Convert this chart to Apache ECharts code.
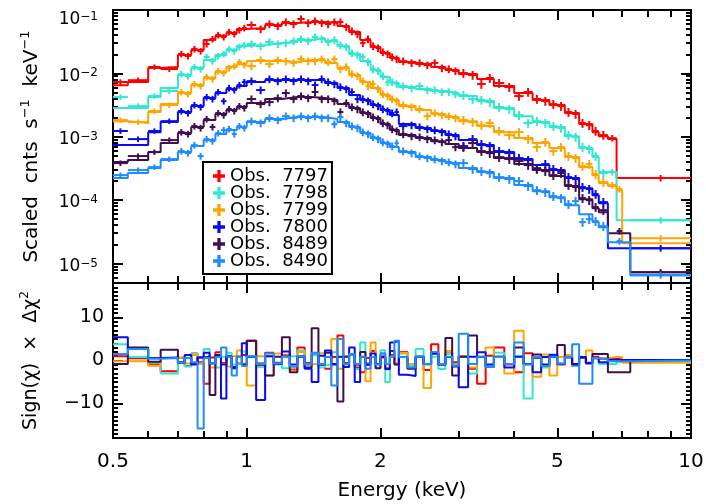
<!DOCTYPE html>
<html><head><meta charset="utf-8">
<script src="https://cdn.jsdelivr.net/npm/echarts@6/dist/echarts.min.js"></script>
<style>html,body{margin:0;padding:0;background:#fff}#c{width:706px;height:504px}</style>
</head><body><div id="c"></div>
<script>
// ---------------- data ----------------
const obsNames = ['Obs.  7797','Obs.  7798','Obs.  7799','Obs.  7800','Obs.  8489','Obs.  8490'];
const obsColors = ['#FF0000','#30E8D0','#FFA500','#0A0AF0','#3F0F4F','#1E8CFF'];

// model (folded) step bins, keV
const modelEdges = [0.50,0.54,0.60,0.64,0.70,0.75,0.80,0.85,0.90,0.95,1.00,1.10,1.20,1.30,1.40,1.50,1.60,1.70,1.80,1.90,2.00,2.10,2.20,2.40,2.60,2.80,3.00,3.30,3.60,4.00,4.40,4.80,5.20,5.60,6.00,6.20,6.50,6.80,7.00,7.30,10.0];
const model7797 = [6.5e-3,7.3e-3,1.21e-2,1.26e-2,1.95e-2,2.33e-2,3.36e-2,3.88e-2,4.33e-2,5.0e-2,5.2e-2,5.8e-2,6.24e-2,6.46e-2,6.46e-2,6.24e-2,5.59e-2,4.49e-2,3.36e-2,2.6e-2,2.09e-2,1.74e-2,1.51e-2,1.40e-2,1.26e-2,1.13e-2,9.75e-3,8.13e-3,6.3e-3,4.89e-3,3.79e-3,3.16e-3,2.36e-3,1.58e-3,1.18e-3,1.02e-3,9.16e-4,2.22e-4,2.22e-4,2.22e-4];
const model7798 = [2.83e-3,2.83e-3,4.22e-3,5.86e-3,9.4e-3,1.21e-2,1.62e-2,1.95e-2,2.33e-2,2.7e-2,2.8e-2,3.01e-2,3.12e-2,3.36e-2,3.61e-2,3.24e-2,2.7e-2,2.02e-2,1.56e-2,1.13e-2,8.74e-3,7.03e-3,6.08e-3,5.65e-3,5.25e-3,4.89e-3,4.38e-3,3.65e-3,2.83e-3,2.11e-3,1.70e-3,1.42e-3,1.02e-3,6.6e-4,4.76e-4,2.76e-4,2.76e-4,4.81e-5,4.81e-5,4.81e-5];
const model7799 = [1.76e-3,1.64e-3,2.45e-3,3.27e-3,4.89e-3,6.53e-3,8.43e-3,1.05e-2,1.26e-2,1.40e-2,1.56e-2,1.56e-2,1.51e-2,1.62e-2,1.62e-2,1.46e-2,1.21e-2,9.4e-3,7.29e-3,5.86e-3,4.54e-3,3.79e-3,3.04e-3,2.63e-3,2.28e-3,2.04e-3,1.76e-3,1.47e-3,1.18e-3,9.5e-4,7.92e-4,6.6e-4,4.76e-4,3.31e-4,2.47e-4,1.85e-4,1.66e-4,1.43e-4,2.08e-5,2.08e-5];
const model7800 = [7.36e-4,7.36e-4,1.18e-3,1.70e-3,2.45e-3,3.04e-3,4.07e-3,4.89e-3,5.65e-3,6.3e-3,7.29e-3,7.84e-3,7.84e-3,7.84e-3,7.84e-3,7.03e-3,5.86e-3,4.54e-3,3.79e-3,3.16e-3,2.63e-3,2.19e-3,1.58e-3,1.37e-3,1.23e-3,1.06e-3,8.83e-4,7.36e-4,5.71e-4,4.43e-4,3.56e-4,2.97e-4,2.22e-4,1.54e-4,1.19e-4,8.93e-5,1.74e-5,1.74e-5,1.74e-5,1.74e-5];
const model8489 = [3.97e-4,4.27e-4,5.71e-4,7.92e-4,1.14e-3,1.42e-3,1.83e-3,2.28e-3,2.63e-3,2.94e-3,3.40e-3,3.93e-3,4.22e-3,4.22e-3,4.07e-3,3.79e-3,3.27e-3,2.83e-3,2.36e-3,1.97e-3,1.58e-3,1.27e-3,1.06e-3,9.5e-4,8.51e-4,7.64e-4,6.6e-4,5.71e-4,4.59e-4,3.69e-4,2.97e-4,2.39e-4,1.66e-4,1.03e-4,7.44e-5,6.44e-5,3.0e-5,3.0e-5,3.0e-5,7.26e-6];
const model8490 = [2.22e-4,2.66e-4,3.19e-4,4.27e-4,5.71e-4,7.1e-4,8.83e-4,1.10e-3,1.27e-3,1.42e-3,1.70e-3,1.90e-3,2.04e-3,2.04e-3,2.04e-3,1.90e-3,1.70e-3,1.42e-3,1.14e-3,9.5e-4,7.92e-4,6.85e-4,5.71e-4,4.76e-4,4.27e-4,3.83e-4,3.19e-4,2.76e-4,2.22e-4,1.72e-4,1.38e-4,1.11e-4,8.3e-5,5.98e-5,4.48e-5,3.73e-5,2.16e-5,2.16e-5,2.16e-5,6.51e-6];

// data channel groups, keV
const binEdges = [0.50,0.54,0.60,0.64,0.70,0.725,0.75,0.775,0.80,0.825,0.85,0.875,0.90,0.925,0.95,0.975,1.00,1.05,1.10,1.15,1.20,1.25,1.30,1.35,1.40,1.45,1.50,1.55,1.60,1.65,1.70,1.75,1.80,1.85,1.90,1.95,2.00,2.05,2.10,2.15,2.20,2.30,2.40,2.50,2.60,2.70,2.80,2.90,3.00,3.15,3.30,3.45,3.60,3.80,4.00,4.20,4.40,4.60,4.80,5.00,5.20,5.40,5.60,5.80,6.00,6.20,6.50,6.80,7.00,7.30,10.0];
const errFrac = [0.10,0.10,0.10,0.10,0.12,0.12,0.12,0.12,0.12,0.12,0.12,0.12,0.12,0.12,0.12,0.12,0.14,0.14,0.14,0.14,0.14,0.14,0.14,0.14,0.14,0.14,0.14,0.14,0.14,0.14,0.14,0.14,0.14,0.14,0.14,0.14,0.14,0.14,0.14,0.14,0.14,0.14,0.14,0.14,0.14,0.14,0.14,0.14,0.16,0.16,0.16,0.16,0.16,0.16,0.16,0.16,0.16,0.16,0.16,0.16,0.16,0.16,0.16,0.16,0.16,0.16,0.12,0.12,0.12,0.12];

const data7797 = [7.3e-3,7.8e-3,1.26e-2,1.17e-2,2.02e-2,1.88e-2,2.42e-2,2.25e-2,2.90e-2,3.48e-2,4.03e-2,3.74e-2,4.49e-2,4.18e-2,4.83e-2,5.20e-2,5.80e-2,5.01e-2,6.01e-2,5.59e-2,6.46e-2,6.01e-2,7.21e-2,6.24e-2,6.70e-2,6.24e-2,6.01e-2,6.46e-2,6.46e-2,5.39e-2,4.66e-2,4.18e-2,3.01e-2,3.48e-2,2.70e-2,2.51e-2,2.17e-2,2.02e-2,1.81e-2,1.68e-2,1.56e-2,1.46e-2,1.46e-2,1.35e-2,1.46e-2,1.21e-2,1.17e-2,1.09e-2,1.01e-2,9.4e-3,6.78e-3,8.43e-3,7.03e-3,6.08e-3,4.38e-3,5.07e-3,3.93e-3,3.65e-3,3.27e-3,3.04e-3,2.45e-3,2.28e-3,1.64e-3,1.52e-3,1.23e-3,1.06e-3,9.5e-4,null,null,2.22e-4];
const data7798 = [4.22e-3,3.04e-3,4.38e-3,5.25e-3,9.75e-3,9.06e-3,1.26e-2,1.17e-2,1.81e-2,1.56e-2,1.88e-2,2.02e-2,2.42e-2,2.25e-2,2.60e-2,2.80e-2,2.90e-2,2.70e-2,3.12e-2,2.90e-2,3.01e-2,3.24e-2,3.48e-2,3.24e-2,3.74e-2,3.48e-2,3.12e-2,3.36e-2,2.80e-2,2.60e-2,2.09e-2,1.95e-2,1.81e-2,1.51e-2,1.17e-2,1.09e-2,9.06e-3,7.29e-3,7.29e-3,6.78e-3,6.30e-3,5.86e-3,6.30e-3,5.45e-3,5.45e-3,5.07e-3,5.07e-3,4.71e-3,4.54e-3,3.93e-3,3.79e-3,3.52e-3,2.94e-3,2.73e-3,2.19e-3,1.64e-3,1.76e-3,1.64e-3,1.47e-3,1.37e-3,1.06e-3,9.86e-4,6.85e-4,6.37e-4,4.94e-4,2.66e-4,2.76e-4,null,null,4.81e-5];
const data7799 = [1.83e-3,1.70e-3,2.54e-3,3.16e-3,5.07e-3,4.71e-3,6.78e-3,6.30e-3,8.74e-3,8.13e-3,1.09e-2,1.01e-2,1.21e-2,1.30e-2,1.51e-2,1.35e-2,1.30e-2,1.62e-2,1.40e-2,1.62e-2,1.56e-2,1.46e-2,1.68e-2,1.56e-2,1.56e-2,1.68e-2,1.51e-2,1.68e-2,1.17e-2,1.26e-2,9.75e-3,9.06e-3,7.55e-3,6.30e-3,6.78e-3,5.65e-3,4.71e-3,4.38e-3,3.93e-3,3.65e-3,3.16e-3,2.94e-3,2.73e-3,2.11e-3,2.36e-3,2.19e-3,2.11e-3,1.97e-3,1.83e-3,1.70e-3,1.52e-3,1.64e-3,1.23e-3,1.06e-3,1.18e-3,9.16e-4,6.85e-4,8.22e-4,5.93e-4,6.85e-4,4.94e-4,4.59e-4,3.43e-4,3.69e-4,2.56e-4,1.92e-4,1.72e-4,1.49e-4,null,2.50e-5];
const data7800 = [1.23e-3,9.16e-4,1.23e-3,1.76e-3,2.54e-3,2.36e-3,3.16e-3,2.94e-3,4.22e-3,3.93e-3,5.07e-3,3.65e-3,5.86e-3,5.45e-3,6.53e-3,7.29e-3,7.55e-3,5.45e-3,8.13e-3,7.55e-3,8.13e-3,7.55e-3,8.13e-3,7.55e-3,6.53e-3,8.13e-3,7.29e-3,6.78e-3,6.08e-3,5.65e-3,5.07e-3,3.93e-3,3.93e-3,3.65e-3,3.27e-3,3.04e-3,2.73e-3,2.54e-3,2.36e-3,2.45e-3,1.47e-3,1.52e-3,1.42e-3,1.32e-3,1.27e-3,1.18e-3,1.10e-3,1.02e-3,7.10e-4,9.16e-4,7.64e-4,7.10e-4,5.93e-4,5.51e-4,4.59e-4,4.27e-4,3.19e-4,3.69e-4,3.08e-4,2.86e-4,2.30e-4,2.14e-4,1.60e-4,1.49e-4,1.24e-4,9.27e-5,null,null,null,1.74e-5];
const data8489 = [3.83e-4,4.94e-4,5.71e-4,8.83e-4,1.18e-3,1.10e-3,1.47e-3,1.37e-3,1.90e-3,1.42e-3,2.36e-3,2.19e-3,2.73e-3,2.54e-3,3.04e-3,2.83e-3,3.93e-3,3.27e-3,3.52e-3,4.07e-3,4.89e-3,3.93e-3,4.38e-3,4.07e-3,5.07e-3,3.93e-3,3.93e-3,3.65e-3,2.45e-3,3.40e-3,2.94e-3,2.73e-3,2.45e-3,2.28e-3,2.04e-3,1.90e-3,1.64e-3,1.52e-3,1.32e-3,1.23e-3,1.10e-3,1.02e-3,9.86e-4,9.16e-4,8.83e-4,8.22e-4,8.83e-4,6.85e-4,6.85e-4,7.92e-4,5.93e-4,5.51e-4,4.76e-4,4.43e-4,4.12e-4,3.56e-4,3.08e-4,2.86e-4,2.47e-4,2.66e-4,1.72e-4,1.60e-4,1.07e-4,9.96e-5,7.73e-5,6.92e-5,null,3.23e-5,null,7.26e-6];
const data8490 = [2.47e-4,2.97e-4,3.31e-4,4.43e-4,5.93e-4,5.51e-4,7.36e-4,4.94e-4,9.16e-4,8.51e-4,1.14e-3,1.27e-3,1.32e-3,1.10e-3,1.47e-3,1.37e-3,1.76e-3,1.64e-3,1.97e-3,1.83e-3,2.11e-3,1.97e-3,2.11e-3,1.97e-3,2.11e-3,1.97e-3,1.97e-3,1.58e-3,2.04e-3,1.64e-3,1.47e-3,1.37e-3,1.18e-3,1.10e-3,9.86e-4,9.16e-4,8.22e-4,7.64e-4,7.10e-4,7.92e-4,5.93e-4,5.51e-4,4.94e-4,4.59e-4,4.43e-4,4.12e-4,3.97e-4,3.69e-4,3.83e-4,3.08e-4,2.86e-4,2.66e-4,2.30e-4,2.14e-4,1.99e-4,1.66e-4,1.43e-4,1.33e-4,1.15e-4,1.07e-4,8.61e-5,9.61e-5,4.48e-5,4.99e-5,4.64e-5,3.87e-5,null,2.24e-5,null,6.51e-6];

// residuals: sign(chi) * delta chi^2
const resid7797 = [1.0,0.5,-0.8,-2.5,0.6,-1.3,1.6,-0.4,-5.4,0.7,1.9,-0.6,1.0,-1.7,-0.7,1.3,4.6,-1.2,1.8,-0.5,1.2,-2.1,3.0,-0.6,1.4,-1.0,-1.9,0.8,5.8,-0.6,1.5,-1.6,-2.7,0.6,2.2,-0.8,0.7,-1.8,1.3,-0.7,2.0,-1.0,0.8,-2.2,3.8,-0.8,1.6,-0.4,1.0,-1.9,-5.4,1.1,3.0,-0.9,-2.7,1.7,0.6,-1.4,1.2,-0.9,0.8,-1.2,0.6,-0.5,0.9,0.4,0.5,0.2,0.1,0.0];
const resid7798 = [3.8,0.8,-0.5,-3.0,0.7,-1.4,1.5,-0.7,2.7,-0.6,-1.6,0.9,1.8,-0.9,-0.8,2.1,0.9,-1.5,1.0,-0.9,-1.8,1.0,2.3,-0.9,1.2,-1.6,-1.1,1.9,0.8,-0.9,1.4,-2.0,4.2,-0.6,0.8,-1.7,2.4,-5.0,1.0,-0.7,1.6,-1.3,2.7,-1.0,0.9,-2.0,1.5,-0.8,0.9,-3.0,0.9,-1.4,1.8,-0.8,1.0,-8.8,0.8,-1.6,1.4,-0.7,0.8,-1.2,0.7,-0.6,0.5,-0.8,-0.8,-0.3,-0.2,-0.1];
const resid7799 = [-0.2,-0.2,-1.2,0.6,0.8,-0.7,1.3,-0.8,0.7,-1.6,0.8,-0.8,-1.4,1.0,2.3,-0.7,-5.8,1.0,-3.5,1.6,0.9,-1.8,2.0,-0.9,-0.8,1.7,0.8,5.0,-1.9,1.0,1.5,-1.0,0.9,-4.8,4.2,-0.8,1.4,-2.1,0.8,-0.9,1.8,-0.8,0.9,-6.4,1.5,-0.8,2.2,-0.9,1.0,-1.6,0.9,3.0,0.8,-3.0,6.9,-0.9,-3.8,1.4,-3.5,0.8,1.3,-0.8,0.7,2.3,0.6,0.5,0.8,0.8,-0.5,-0.5];
const resid7800 = [5.4,2.7,0.6,0.7,-0.6,1.3,-0.9,0.7,1.8,-0.7,0.9,-8.8,1.0,-1.8,0.9,4.0,0.9,-9.2,1.0,-0.8,2.1,-0.9,1.0,-1.9,-5.0,1.1,2.3,-0.8,0.9,-1.5,3.0,-5.0,0.8,-0.9,1.6,-0.8,0.9,-2.0,4.2,4.6,-3.3,-3.6,0.9,-0.8,1.7,-0.9,0.8,-1.4,-6.2,0.9,1.9,-0.9,0.9,-1.6,0.9,-0.8,-2.7,0.8,1.3,-0.8,0.7,-0.8,0.7,-0.6,0.5,-0.4,0.2,0.1,0.1,0.1];
const resid8489 = [-0.8,3.0,-0.3,2.5,-0.4,0.6,-0.8,0.7,0.9,-8.0,1.3,-0.9,0.9,-1.5,0.9,-0.9,4.6,-0.7,-3.5,0.9,5.4,-2.7,0.9,-1.6,7.5,-0.9,1.8,-0.9,-9.5,0.9,1.4,-0.9,2.0,-1.0,0.8,-1.8,0.9,-0.8,2.2,-0.9,0.8,-1.9,0.9,-0.8,1.6,-0.9,5.2,-3.5,0.9,5.8,0.8,-1.5,0.9,-0.8,3.0,-0.8,1.4,-0.9,0.8,3.6,0.8,-0.9,0.8,-0.7,1.5,1.5,-2.7,-2.7,-2.7,0.1];
const resid8490 = [1.5,2.7,0.4,0.6,-0.5,0.6,-0.4,-15.8,0.6,-0.7,0.8,3.0,0.9,-3.5,0.8,-1.3,1.0,-0.8,1.6,-0.7,0.9,-1.4,1.0,-0.9,1.8,-0.8,0.8,-5.8,5.0,-0.8,1.5,-0.8,0.9,-1.9,0.8,-0.9,1.7,-0.8,0.9,4.6,0.8,-1.6,0.9,-0.8,2.0,-0.8,0.9,-1.2,6.2,-0.8,0.9,-1.5,0.8,-0.8,4.2,-0.9,0.8,-1.3,0.9,-0.7,0.8,3.8,-5.4,-5.4,0.6,0.3,-0.2,-0.2,-0.2,0.0];

// ticks
const xMajorTicks = [0.5,1,2,5,10];
const xMinorTicks = [0.6,0.7,0.8,0.9,3,4,6,7,8,9];
const yMajorTicks = [1e-5,1e-4,1e-3,1e-2,1e-1];
const yMinorTicks = [5e-6,6e-6,7e-6,8e-6,9e-6,2e-5,3e-5,4e-5,5e-5,6e-5,7e-5,8e-5,9e-5,2e-4,3e-4,4e-4,5e-4,6e-4,7e-4,8e-4,9e-4,2e-3,3e-3,4e-3,5e-3,6e-3,7e-3,8e-3,9e-3,2e-2,3e-2,4e-2,5e-2,6e-2,7e-2,8e-2,9e-2];
const rMajorTicks = [-10,0,10];
const rMinorTicks = [-18,-17,-16,-15,-14,-13,-12,-11,-9,-8,-7,-6,-5,-4,-3,-2,-1,1,2,3,4,5,6,7,8,9,11,12,13,14,15,16,17,18];

const models = [model7797,model7798,model7799,model7800,model8489,model8490];
const datas = [data7797,data7798,data7799,data7800,data8489,data8490];
const resids = [resid7797,resid7798,resid7799,resid7800,resid8489,resid8490];

// ---------------- chart ----------------
const FONT = 'DejaVu Sans';
const plusIcon = 'path://M4,0H7V4H11V7H7V11H4V7H0V4H4Z';

function stepPoints(edges, vals) {
  const pts = vals.map((v, i) => [edges[i], v]);
  pts.push([edges[edges.length - 1], vals[vals.length - 1]]);
  return pts;
}
function crossItems(vals) {
  const out = [];
  vals.forEach((v, i) => { if (v != null) out.push([binEdges[i], binEdges[i + 1], v, errFrac[i]]); });
  return out;
}
function renderCross(color) {
  return function (params, api) {
    const lo = api.value(0), hi = api.value(1), v = api.value(2), e = api.value(3);
    const xc = Math.sqrt(lo * hi);
    const a = api.coord([lo, v]), b = api.coord([hi, v]);
    const c = api.coord([xc, v * (1 + e)]), d = api.coord([xc, v * (1 - e)]);
    const style = { stroke: color, lineWidth: 2 };
    return { type: 'group', children: [
      { type: 'line', shape: { x1: a[0], y1: a[1], x2: b[0], y2: b[1] }, style: style },
      { type: 'line', shape: { x1: c[0], y1: c[1], x2: d[0], y2: d[1] }, style: style }
    ]};
  };
}

const lineBlack = { color: '#000', width: 2 };
function baseAxis(o) {
  return Object.assign({
    axisLine: { show: true, onZero: false, lineStyle: lineBlack },
    axisLabel: { show: false },
    splitLine: { show: false }, minorTick: { show: false }, minorSplitLine: { show: false }
  }, o);
}
function xAx(grid, pos, ticks, len, extra) {
  return baseAxis(Object.assign({ type: 'log', logBase: 10, gridIndex: grid, position: pos, min: 0.5, max: 10,
    axisTick: { show: true, inside: true, length: len, customValues: ticks, lineStyle: lineBlack } }, extra || {}));
}
function yLogAx(pos, ticks, len, extra) {
  return baseAxis(Object.assign({ type: 'log', logBase: 10, gridIndex: 0, position: pos, min: 4.9e-6, max: 0.1,
    axisTick: { show: true, inside: true, length: len, customValues: ticks, lineStyle: lineBlack } }, extra || {}));
}
function yResAx(pos, ticks, len, extra) {
  return baseAxis(Object.assign({ type: 'value', gridIndex: 1, position: pos, min: -18, max: 18,
    axisTick: { show: true, inside: true, length: len, customValues: ticks, lineStyle: lineBlack } }, extra || {}));
}

const xAxes = [
  xAx(0, 'bottom', xMajorTicks, 10), xAx(0, 'bottom', xMinorTicks, 7),
  xAx(0, 'top', xMajorTicks, 10), xAx(0, 'top', xMinorTicks, 7),
  xAx(1, 'bottom', xMajorTicks, 10, {
    axisLabel: { show: true, customValues: xMajorTicks, margin: 14, color: '#000', fontFamily: FONT, fontSize: 20,
      formatter: v => String(+Number(v).toPrecision(3)) },
    name: 'Energy (keV)', nameLocation: 'middle', nameGap: 43,
    nameTextStyle: { color: '#000', fontFamily: FONT, fontSize: 20 }
  }),
  xAx(1, 'bottom', xMinorTicks, 7),
  xAx(1, 'top', xMajorTicks, 10), xAx(1, 'top', xMinorTicks, 7)
];

const yAxes = [
  yLogAx('left', yMajorTicks, 10, {
    axisLabel: { show: true, customValues: yMajorTicks, margin: 15, color: '#000', fontFamily: FONT,
      formatter: v => {
        const e = Math.round(Math.log10(v));
        const lab = '{b|10}{s|−' + (-e) + '}';
        return e === -1 ? '{sp| }\n' + lab : lab;
      },
      rich: {
        b: { fontFamily: FONT, fontSize: 17, lineHeight: 24, padding: [6, 0, 0, 0], color: '#000' },
        s: { fontFamily: FONT, fontSize: 12, lineHeight: 10, verticalAlign: 'top', padding: [6, 0, 0, 0], color: '#000' },
        sp: { fontFamily: FONT, fontSize: 4, lineHeight: 14, color: '#000' }
      } },
    name: 'Scaled  cnts  s{s|−1}  keV{s|−1}', nameLocation: 'middle', nameRotate: 90, nameGap: 69,
    nameTextStyle: { color: '#000', fontFamily: FONT, fontSize: 20, lineHeight: 25,
      rich: { s: { fontFamily: FONT, fontSize: 13, lineHeight: 10, verticalAlign: 'top', color: '#000' } } }
  }),
  yLogAx('left', yMinorTicks, 5),
  yLogAx('right', yMajorTicks, 10),
  yLogAx('right', yMinorTicks, 5),
  yResAx('left', rMajorTicks, 10, {
    axisLabel: { show: true, customValues: rMajorTicks, margin: 9, color: '#000', fontFamily: FONT, fontSize: 19,
      formatter: v => (v < 0 ? '−' + (-v) : String(v)) },
    name: 'Sign(χ)  ×  Δχ{s|2}', nameLocation: 'middle', nameRotate: 90, nameGap: 69,
    nameTextStyle: { color: '#000', fontFamily: FONT, fontSize: 19, lineHeight: 25,
      rich: { s: { fontFamily: FONT, fontSize: 12, lineHeight: 10, verticalAlign: 'top', color: '#000' } } }
  }),
  yResAx('left', rMinorTicks, 5),
  yResAx('right', rMajorTicks, 10),
  yResAx('right', rMinorTicks, 5)
];

const series = [];
obsNames.forEach((name, k) => {
  const col = obsColors[k];
  series.push({
    name: name, type: 'line', step: 'end', xAxisIndex: 0, yAxisIndex: 0,
    data: stepPoints(modelEdges, models[k]), showSymbol: false, symbol: 'none',
    lineStyle: { color: col, width: 2 }, itemStyle: { color: col }, color: col,
    clip: true, silent: true, z: 2 + k
  });
  series.push({
    name: name, type: 'custom', xAxisIndex: 0, yAxisIndex: 0,
    data: crossItems(datas[k]), encode: { x: [0, 1], y: 2 },
    renderItem: renderCross(col), itemStyle: { color: col }, color: col,
    clip: true, silent: true, z: 2 + k
  });
});
const resOrder = [0, 1, 2, 4, 3, 5];
resOrder.forEach((k, j) => {
  const col = obsColors[k];
  series.push({
    name: obsNames[k] + ' resid', type: 'line', step: 'end', xAxisIndex: 4, yAxisIndex: 4,
    data: stepPoints(binEdges, resids[k]), showSymbol: false, symbol: 'none',
    lineStyle: { color: col, width: 2 }, itemStyle: { color: col }, color: col,
    clip: true, silent: true, z: 2 + j
  });
});

const chart = echarts.init(document.getElementById('c'), null, { renderer: 'canvas' });
chart.setOption({
  animation: false,
  backgroundColor: '#fff',
  grid: [
    { left: 113, top: 10, width: 578, height: 273, outerBoundsMode: 'none', containLabel: false },
    { left: 113, top: 283, width: 578, height: 155, outerBoundsMode: 'none', containLabel: false }
  ],
  xAxis: xAxes,
  yAxis: yAxes,
  legend: {
    left: 203, top: 162, orient: 'vertical', selectedMode: false, z: 20,
    data: obsNames.map(n => ({ name: n, icon: plusIcon })),
    itemWidth: 12, itemHeight: 12, itemGap: -1, padding: [5, 4, 4, 10],
    borderColor: '#000', borderWidth: 2, backgroundColor: '#fff', borderRadius: 0,
    textStyle: { color: '#000', fontFamily: FONT, fontSize: 18, lineHeight: 17 }
  },
  series: series
});
</script>
</body></html>
